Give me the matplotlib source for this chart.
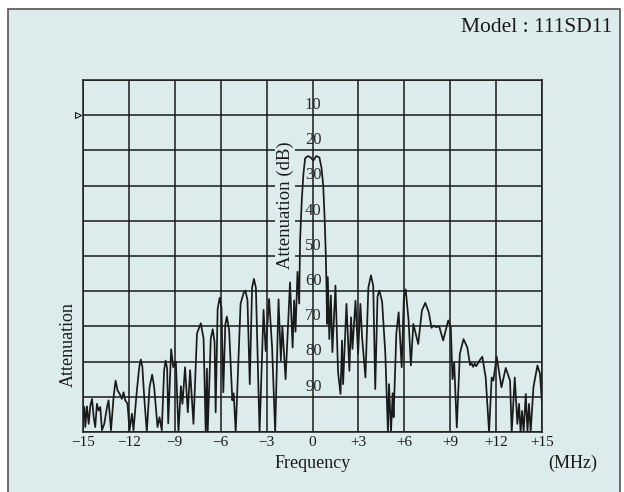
import matplotlib
matplotlib.use("Agg")
import matplotlib.pyplot as plt
from matplotlib.patches import Rectangle

# response curve (MHz, dB)
freq = [-15.0, -14.91, -14.85, -14.74, -14.63, -14.52, -14.41, -14.30, -14.20, -14.09,
        -13.98, -13.87, -13.76, -13.61, -13.43, -13.33, -13.17, -13.00, -12.87, -12.74,
        -12.61, -12.46, -12.35, -12.24, -12.09, -11.96, -11.80, -11.70, -11.48, -11.32,
        -11.22, -11.12, -11.00, -10.83, -10.65, -10.48, -10.35, -10.13, -10.00, -9.85,
        -9.70, -9.60, -9.50, -9.43, -9.24, -9.10, -8.93, -8.76, -8.60, -8.50,
        -8.33, -8.15, -8.00, -7.78, -7.55, -7.30, -7.12, -6.98, -6.90, -6.85,
        -6.65, -6.52, -6.40, -6.33, -6.20, -6.07, -5.95, -5.83, -5.70, -5.60,
        -5.45, -5.24, -5.15, -5.02, -4.70, -4.50, -4.39, -4.25, -4.10, -3.95,
        -3.83, -3.70, -3.46, -3.20, -3.06, -2.84, -2.64, -2.44, -2.22, -2.07,
        -1.97, -1.76, -1.47, -1.30, -1.20, -1.11, -0.98, -0.87, -0.81, -0.70,
        -0.59, -0.48, -0.30, -0.12, 0.05, 0.25, 0.45, 0.59, 0.70, 0.80,
        0.87, 0.92, 0.95, 1.00, 1.10, 1.20, 1.30, 1.50, 1.67, 1.83,
        1.93, 2.00, 2.22, 2.41, 2.52, 2.61, 2.81, 2.98, 3.13, 3.24,
        3.46, 3.65, 3.82, 3.97, 4.10, 4.25, 4.37, 4.55, 4.76, 4.93,
        5.00, 5.13, 5.24, 5.30, 5.48, 5.63, 5.83, 5.97, 6.09, 6.28,
        6.43, 6.59, 6.91, 7.15, 7.37, 7.60, 7.78, 7.90, 8.07, 8.28,
        8.54, 8.87, 9.04, 9.15, 9.26, 9.43, 9.63, 9.87, 10.12, 10.30,
        10.40, 10.50, 10.60, 10.70, 10.85, 10.95, 11.10, 11.32, 11.54, 11.71,
        11.82, 12.04, 12.35, 12.63, 12.91, 13.02, 13.22, 13.39, 13.50, 13.60,
        13.70, 13.80, 13.94, 14.05, 14.15, 14.26, 14.44, 14.70, 14.87, 15.0]
atten = [95.8, 92.9, 98.6, 92.7, 97.7, 92.5, 90.6, 95.8, 98.6, 92.0,
         93.9, 92.9, 99.5, 97.7, 92.9, 91.0, 99.5, 90.0, 85.4, 88.2,
         89.1, 90.6, 88.7, 91.0, 92.0, 99.5, 94.8, 99.5, 88.2, 81.5,
         79.4, 81.5, 90.0, 100.0, 87.2, 83.7, 87.2, 98.6, 95.8, 99.5,
         82.5, 79.7, 82.0, 97.5, 76.5, 81.6, 80.0, 100.0, 87.0, 92.0,
         81.6, 94.4, 82.4, 97.7, 72.0, 69.1, 73.5, 100.0, 82.0, 100.0,
         73.5, 70.8, 74.5, 94.4, 65.0, 61.9, 64.5, 88.7, 69.5, 67.2,
         71.0, 91.0, 89.0, 100.0, 63.5, 60.5, 59.8, 62.5, 86.4, 59.0,
         56.5, 59.0, 100.0, 65.3, 77.0, 62.2, 76.0, 100.0, 62.3, 79.7,
         70.0, 85.0, 57.5, 76.0, 62.6, 71.5, 54.5, 63.5, 45.4, 34.0,
         26.5, 22.2, 21.6, 22.0, 22.9, 21.6, 22.0, 25.0, 30.0, 40.0,
         50.0, 60.0, 69.3, 56.0, 73.6, 61.2, 77.3, 58.4, 83.0, 89.2,
         74.0, 86.4, 63.6, 82.6, 67.4, 76.4, 62.7, 77.8, 63.6, 73.0,
         84.5, 59.0, 55.5, 58.5, 87.8, 61.5, 59.8, 63.0, 77.8, 100.0,
         86.4, 100.0, 89.0, 95.8, 72.0, 66.0, 81.6, 62.0, 59.5, 68.3,
         81.1, 69.3, 75.0, 65.5, 63.3, 66.0, 70.4, 69.8, 70.2, 70.0,
         74.0, 68.3, 70.2, 85.0, 80.2, 98.7, 77.8, 73.6, 76.0, 81.0,
         80.5, 81.5, 80.6, 81.3, 80.2, 79.5, 78.6, 84.5, 100.0, 84.5,
         85.4, 78.6, 87.3, 81.8, 85.4, 100.0, 84.5, 97.7, 92.0, 100.0,
         94.0, 100.0, 89.2, 100.0, 92.0, 100.0, 87.3, 81.1, 83.5, 92.0]

x_ticks = [-15, -12, -9, -6, -3, 0, 3, 6, 9, 12, 15]
x_labels = ["\u221215", "\u221212", "\u22129", "\u22126", "\u22123", "0",
            "+3", "+6", "+9", "+12", "+15"]
db_levels = [10, 20, 30, 40, 50, 60, 70, 80, 90]

bg = "#dcebeb"
ink = "#1a1a1a"
plt.rcParams["font.family"] = ["Liberation Serif", "DejaVu Serif"]

fig = plt.figure(figsize=(6.24, 4.92), dpi=100)
fig.patch.set_facecolor("white")
frame = Rectangle((8 / 624, -0.05), 612 / 624, 1 - 9 / 492 + 0.05,
                  transform=fig.transFigure, facecolor=bg,
                  edgecolor="#555555", linewidth=1.2, zorder=-10)
fig.patches.append(frame)

ax = fig.add_axes([83 / 624, 1 - 432 / 492, 459 / 624, 352 / 492])
ax.set_facecolor(bg)
ax.set_xlim(-15, 15)
ax.set_ylim(100, 0)
ax.set_xticks(x_ticks)
ax.set_xticklabels(x_labels, fontsize=11, color=ink)
ax.set_yticks(range(0, 101, 10))
ax.set_yticklabels([])
ax.tick_params(length=0, pad=3)
ax.grid(True, color=ink, linewidth=1.1)
for s in ax.spines.values():
    s.set_color(ink)
    s.set_linewidth(1.1)

ax.plot(freq, atten, color=ink, linewidth=1.25, zorder=3)

for d in db_levels:
    ax.text(0.05, d - 0.6, str(d), fontsize=12, color="#2a2a2a",
            ha="center", va="bottom", zorder=4)

ax.text(-1.78, 35.5, "Attenuation (dB)", rotation=90, fontsize=13.5, color=ink,
        ha="center", va="center", zorder=5,
        bbox=dict(facecolor=bg, edgecolor="none", pad=1))

ax.plot([-15.35], [10], marker=">", markersize=4, markerfacecolor="none",
        markeredgecolor=ink, markeredgewidth=0.8, clip_on=False)

fig.text(68 / 624, 1 - 345 / 492, "Attenuation", rotation=90, fontsize=13,
         color=ink, ha="center", va="center")
fig.text(313 / 624, 1 - 463 / 492, "Frequency", fontsize=13, color=ink,
         ha="center", va="center")
fig.text(573 / 624, 1 - 463 / 492, "(MHz)", fontsize=13, color=ink,
         ha="center", va="center")
fig.text(612 / 624, 1 - 28 / 492, "Model : 111SD11", fontsize=15.5, color=ink,
         ha="right", va="center")

fig.savefig("out.png", dpi=100)
